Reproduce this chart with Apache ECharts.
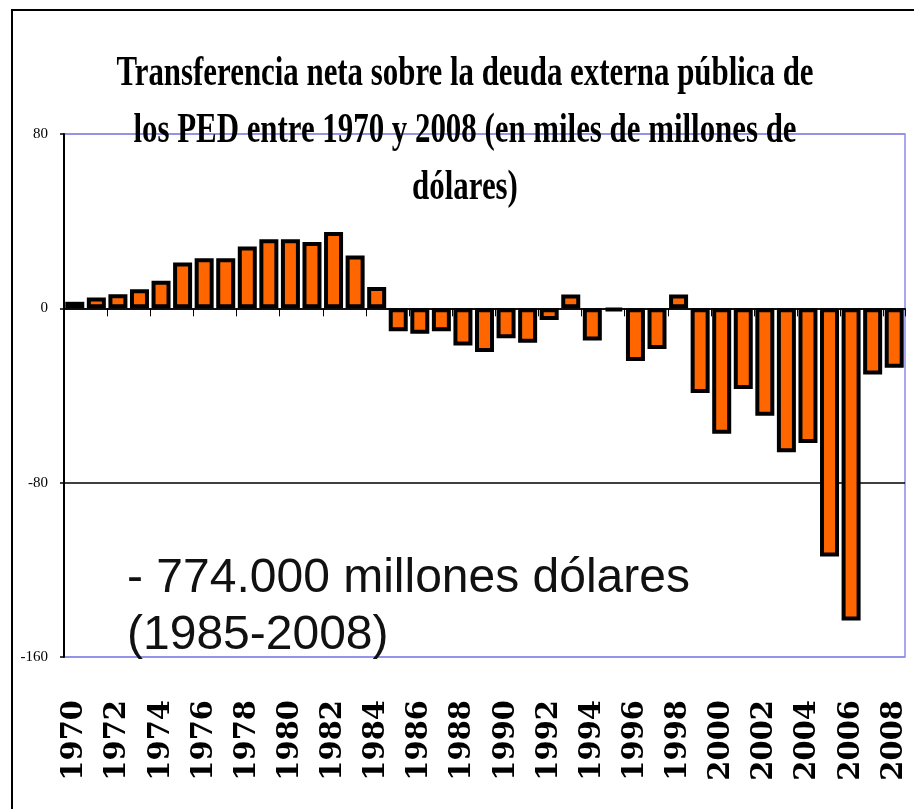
<!DOCTYPE html>
<html>
<head>
<meta charset="utf-8">
<script src="https://cdn.jsdelivr.net/npm/echarts@6/dist/echarts.min.js"></script>
<style>
  html, body { margin: 0; padding: 0; background: #fff; }
  #chart { width: 914px; height: 809px; }
</style>
</head>
<body>
<div id="chart"></div>
<script>
// años 1970-2008
const years = []
for (let y = 1970; y <= 2008; y++) years.push(String(y))

// transferencia neta (miles de millones de dólares)
const transfer = [
  3, 5, 6.5, 8.7, 12.7, 21, 23, 23, 28.4, 31.7,
  31.7, 30.4, 35, 24.3, 9.8, -10.5, -11.7, -10.5, -17, -20,
  -13.7, -15.8, -5.3, 6.3, -14.8, -1, -24.2, -18.7, 6.3, -38.9,
  -57.6, -37, -49.3, -66, -61.8, -113.9, -143.2, -30.4, -27.3
]

const yTicks = [-160, -80, 0, 80]

const titleLines = [
  'Transferencia neta sobre la deuda externa pública de',
  'los PED entre 1970 y 2008 (en miles de millones de',
  'dólares)'
]
const noteLines = ['- 774.000 millones dólares', '(1985-2008)']

const chart = echarts.init(document.getElementById('chart'))

const titleFont = 'bold 42px "Liberation Serif", "Times New Roman", serif'
const noteFont = '48px "Liberation Sans", Arial, sans-serif'

chart.setOption({
  animation: false,
  backgroundColor: '#fff',
  grid: {
    left: 64, right: 9, top: 134, bottom: 152,
    show: true, borderColor: '#8c8ce6', borderWidth: 1.5,
    backgroundColor: 'transparent'
  },
  xAxis: [
    {
      type: 'category',
      data: years,
      axisLine: { onZero: true, lineStyle: { color: '#000', width: 1.5 } },
      axisTick: { show: true, inside: false, length: 8, lineStyle: { color: '#000', width: 1 } },
      axisLabel: { show: false },
      splitLine: { show: false }
    },
    {
      type: 'category',
      data: years,
      position: 'bottom',
      axisLine: { show: false },
      axisTick: { show: false },
      axisLabel: {
        interval: 1,
        rotate: 90,
        margin: 43,
        color: '#000',
        fontFamily: '"DejaVu Serif", "Liberation Serif", serif',
        fontWeight: 'bold',
        fontSize: 29
      }
    }
  ],
  yAxis: {
    type: 'value',
    min: yTicks[0],
    max: yTicks[yTicks.length - 1],
    interval: 80,
    axisLine: { show: true, lineStyle: { color: '#000', width: 2 } },
    axisTick: { show: true, length: 4, lineStyle: { color: '#000', width: 1.5 } },
    axisLabel: {
      margin: 16,
      color: '#000',
      fontFamily: '"Liberation Serif", "Times New Roman", serif',
      fontSize: 15
    },
    splitLine: {
      show: true,
      lineStyle: { color: ['#8c8ce6', '#000', '#000', '#8c8ce6'], width: 1.5 }
    }
  },
  series: [{
    type: 'bar',
    xAxisIndex: 0,
    data: transfer,
    barWidth: 19,
    itemStyle: { color: '#ff6600', borderColor: '#000', borderWidth: 4 }
  }],
  graphic: [
    {
      type: 'rect',
      shape: { x: 12, y: 10, width: 1000, height: 900 },
      style: { fill: 'none', stroke: '#000', lineWidth: 2 },
      silent: true, z: -1
    },
    ...titleLines.map((t, i) => ({
      type: 'text',
      x: 465, y: 74 + i * 57,
      scaleX: 0.735,
      style: { text: t, font: titleFont, fill: '#000', align: 'center', verticalAlign: 'middle' },
      z: 100
    })),
    ...noteLines.map((t, i) => ({
      type: 'text',
      x: 127, y: 579 + i * 57,
      style: { text: t, font: noteFont, fill: '#111', align: 'left', verticalAlign: 'middle' },
      z: 100
    }))
  ]
})
</script>
</body>
</html>
